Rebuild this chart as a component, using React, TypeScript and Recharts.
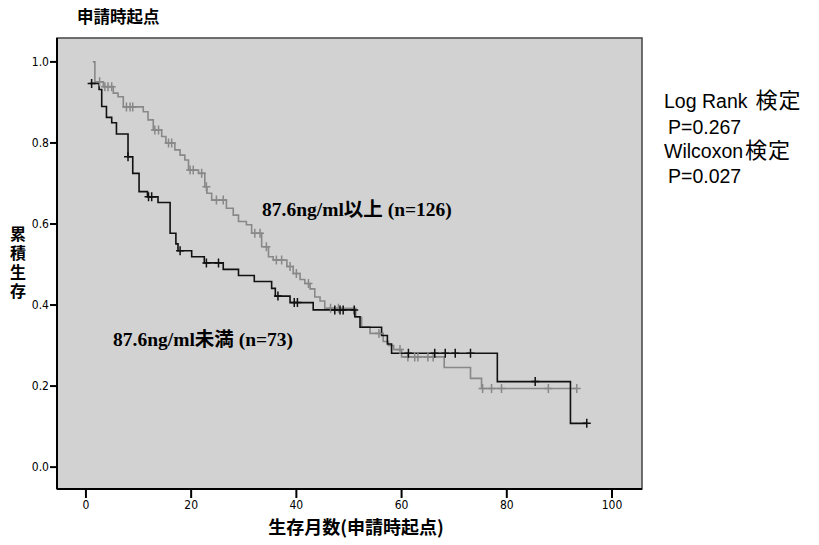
import React from "react";
import {
  ComposedChart,
  Line,
  Scatter,
  XAxis,
  YAxis,
  CartesianGrid,
  ReferenceArea,
} from "recharts";

// Kaplan-Meier step points: [months, cumulative survival]
const highGroupSteps: [number, number][] = [
  [1.3, 1.0], [1.7, 0.951], [3.3, 0.939], [5.2, 0.923], [6.1, 0.914], [7.1, 0.889],
  [10.9, 0.877], [11.8, 0.857], [12.8, 0.832], [14.4, 0.816], [15.2, 0.8], [16.9, 0.783],
  [17.9, 0.77], [18.8, 0.758], [19.5, 0.733], [21.4, 0.725], [22.6, 0.692], [23.0, 0.676],
  [23.9, 0.659], [26.7, 0.639], [28.0, 0.622], [29.0, 0.606], [30.5, 0.598], [31.5, 0.577],
  [33.4, 0.544], [34.7, 0.519], [35.6, 0.511], [38.2, 0.495], [39.4, 0.478], [40.7, 0.463],
  [41.6, 0.453], [42.6, 0.44], [43.5, 0.42], [44.5, 0.41], [45.4, 0.392], [51.3, 0.37],
  [52.4, 0.346], [54.0, 0.33], [56.5, 0.31], [57.5, 0.3], [58.5, 0.29], [60.0, 0.272],
  [68.1, 0.246], [73.1, 0.219], [75.2, 0.194], [93.3, 0.194],
];
const highGroupCensored: number[] = [
  2.6, 3.6, 4.2, 4.9, 7.7, 8.4, 8.9, 13.1, 13.8, 15.7, 16.3, 19.8, 20.4, 22.0, 22.9,
  24.8, 26.1, 32.1, 33.1, 34.3, 36.2, 37.2, 38.8, 40.0, 42.3, 46.5, 48.0, 55.7, 59.7,
  61.2, 62.5, 63.1, 65.0, 66.0, 75.4, 77.1, 79.0, 87.9, 93.3,
];

const lowGroupSteps: [number, number][] = [
  [0.8, 0.947], [2.5, 0.932], [3.0, 0.89], [3.9, 0.863], [4.9, 0.85], [5.8, 0.822],
  [8.0, 0.766], [8.9, 0.725], [10.1, 0.68], [11.7, 0.667], [13.7, 0.653], [16.0, 0.577],
  [17.1, 0.551], [17.5, 0.534], [20.1, 0.519], [22.5, 0.504], [26.1, 0.488], [29.0, 0.473],
  [32.0, 0.458], [35.3, 0.441], [36.0, 0.422], [38.8, 0.406], [43.2, 0.388], [51.1, 0.371],
  [52.1, 0.345], [56.2, 0.325], [57.3, 0.304], [58.1, 0.281], [78.2, 0.211], [92.1, 0.108],
  [95.2, 0.108],
];
const lowGroupCensored: number[] = [
  1.08, 8.0, 11.9, 12.5, 17.9, 22.9, 25.2, 36.5, 39.6, 40.2, 47.3, 48.3, 48.9, 51.0,
  61.3, 66.3, 68.3, 70.2, 73.1, 85.4, 95.2,
];

const xTicks = [0, 20, 40, 60, 80, 100];
const yTicks = [0, 0.2, 0.4, 0.6, 0.8, 1.0];

const highLabel = "87.6ng/ml以上 (n=126)";
const lowLabel = "87.6ng/ml未満 (n=73)";
const titleText = "申請時起点";
const xAxisTitle = "生存月数(申請時起点)";
const yAxisTitle = "累積生存";
// [latin part, CJK part]
const statLines: [string, string][] = [
  ["Log Rank ", "検定"],
  [" P=0.267", ""],
  ["Wilcoxon", "検定"],
  [" P=0.027", ""],
];
const statBaselines = [108, 134, 158, 183];

const toRows = (steps: [number, number][]) => steps.map(([t, s]) => ({ t, s }));
const survivalAt = (steps: [number, number][], t: number) => {
  let v = 1.0;
  for (const [st, s] of steps) if (st <= t) v = s;
  return v;
};
const censorRows = (steps: [number, number][], times: number[]) =>
  times.map((t) => ({ t, s: survivalAt(steps, t) }));

const highRows = toRows(highGroupSteps);
const lowRows = toRows(lowGroupSteps);
const highCensorRows = censorRows(highGroupSteps, highGroupCensored);
const lowCensorRows = censorRows(lowGroupSteps, lowGroupCensored);

const GRAY = "#888888";
const BLACK = "#111111";

const makePlus = (color: string) => (props: any) => {
  const { cx, cy } = props;
  if (cx == null || cy == null) return <g />;
  return (
    <path
      d={`M${cx - 4},${cy}H${cx + 4}M${cx},${cy - 4.5}V${cy + 4.5}`}
      stroke={color}
      strokeWidth={1.5}
      fill="none"
    />
  );
};

const tickFont = {
  fontFamily: "'DejaVu Sans Condensed', 'Liberation Sans', Arial, sans-serif",
  fontSize: 12,
  fill: "#000",
};

export default function App() {
  return (
    <div style={{ position: "absolute", left: 0, top: 0, width: 819, height: 545, background: "#fff" }}>
      <ComposedChart
        width={819}
        height={545}
        margin={{ top: 38, right: 177, bottom: 0, left: 0 }}
      >
        <CartesianGrid fill="#d2d2d2" stroke="none" horizontal={false} vertical={false} />
        <ReferenceArea
          x1={-5.5}
          x2={105.7}
          y1={-0.054}
          y2={1.059}
          fill="none"
          stroke="#444"
          strokeWidth={1.5}
          ifOverflow="visible"
        />
        <XAxis
          dataKey="t"
          type="number"
          domain={[-5.5, 105.7]}
          ticks={xTicks}
          allowDataOverflow
          height={56}
          tickSize={9}
          tickMargin={2}
          axisLine={{ stroke: "#000", strokeWidth: 2 }}
          tickLine={{ stroke: "#000", strokeWidth: 2 }}
          tick={tickFont}
        />
        <YAxis
          dataKey="s"
          type="number"
          domain={[-0.054, 1.059]}
          ticks={yTicks}
          allowDataOverflow
          width={57}
          tickSize={7}
          tickMargin={1}
          tickFormatter={(v: number) => v.toFixed(1)}
          axisLine={{ stroke: "#000", strokeWidth: 2 }}
          tickLine={{ stroke: "#000", strokeWidth: 2 }}
          tick={tickFont}
        />
        <Line
          data={highRows}
          dataKey="s"
          type="stepAfter"
          stroke={GRAY}
          strokeWidth={1.6}
          dot={false}
          activeDot={false}
          isAnimationActive={false}
        />
        <Line
          data={lowRows}
          dataKey="s"
          type="stepAfter"
          stroke={BLACK}
          strokeWidth={1.6}
          dot={false}
          activeDot={false}
          isAnimationActive={false}
        />
        <Scatter
          data={highCensorRows}
          dataKey="s"
          shape={makePlus(GRAY)}
          isAnimationActive={false}
        />
        <Scatter
          data={lowCensorRows}
          dataKey="s"
          shape={makePlus(BLACK)}
          isAnimationActive={false}
        />
      </ComposedChart>
      <svg
        width={819}
        height={545}
        style={{ position: "absolute", left: 0, top: 0, pointerEvents: "none" }}
      >
        <text
          x={77}
          y={23}
          fontFamily="'Noto Sans CJK JP', sans-serif"
          fontWeight="bold"
          fontSize={16.5}
          fill="#000"
        >
          {titleText}
        </text>
        <text
          x={18}
          y={226}
          style={{ writingMode: "vertical-rl" as any }}
          textAnchor="start"
          fontFamily="'Noto Sans CJK JP', sans-serif"
          fontWeight="bold"
          fontSize={16}
          letterSpacing={3}
          fill="#000"
        >
          {yAxisTitle}
        </text>
        <text
          x={356}
          y={534}
          textAnchor="middle"
          fontFamily="'Noto Sans CJK JP', sans-serif"
          fontWeight="bold"
          fontSize={18}
          fill="#000"
        >
          {xAxisTitle}
        </text>
        <text
          x={262}
          y={216}
          fontFamily="'Liberation Serif', 'Noto Sans CJK JP', serif"
          fontWeight="bold"
          fontSize={19.5}
          fill="#000"
        >
          {highLabel}
        </text>
        <text
          x={113}
          y={346}
          fontFamily="'Liberation Serif', 'Noto Sans CJK JP', serif"
          fontWeight="bold"
          fontSize={19.5}
          fill="#000"
        >
          {lowLabel}
        </text>
        {statLines.map(([latin, cjk], i) => (
          <text
            key={i}
            x={latin.startsWith(" ") ? 668 : 664}
            y={statBaselines[i]}
            fontFamily="'Liberation Sans', 'Noto Sans CJK JP', sans-serif"
            fontSize={19.5}
            fill="#000"
          >
            {latin.trim()}
            {cjk ? (
              <tspan
                dx={latin.endsWith(" ") ? 8 : 2}
                fontSize={22}
                letterSpacing={1}
                fontFamily="'Noto Sans CJK JP', sans-serif"
              >
                {cjk}
              </tspan>
            ) : null}
          </text>
        ))}
      </svg>
    </div>
  );
}
